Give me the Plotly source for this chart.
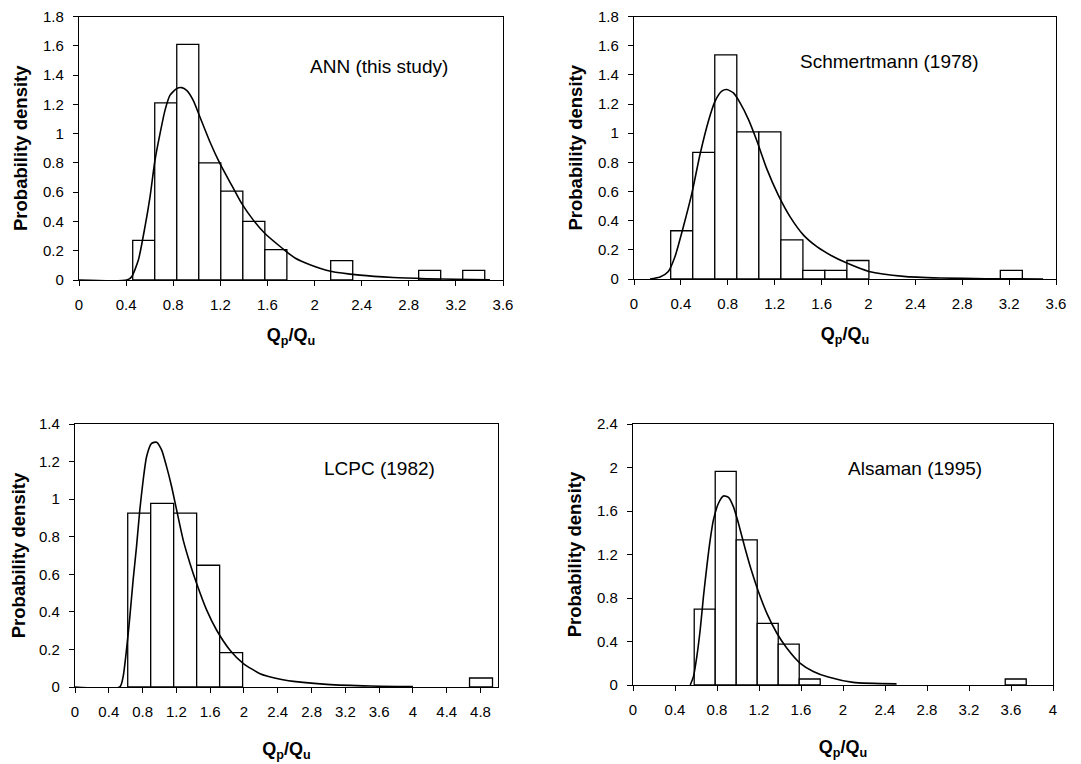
import plotly.graph_objects as go

# ---------------- data ----------------
panel_labels = ["ANN (this study)", "Schmertmann (1978)", "LCPC (1982)", "Alsaman (1995)"]

# histogram bars: left edges of bins, bin width, density
ann_bin_left = [0.456, 0.643, 0.830, 1.017, 1.204, 1.391, 1.578, 2.137, 2.884, 3.258]
ann_bin_width = 0.187
ann_density = [0.27, 1.21, 1.61, 0.80, 0.607, 0.40, 0.207, 0.132, 0.066, 0.066]

sch_bin_left = [0.313, 0.501, 0.689, 0.877, 1.065, 1.253, 1.440, 1.628, 1.816, 3.125]
sch_bin_width = 0.188
sch_density = [0.331, 0.868, 1.537, 1.009, 1.009, 0.268, 0.059, 0.059, 0.127, 0.059]

lcpc_bin_left = [0.624, 0.896, 1.168, 1.440, 1.712, 4.670]
lcpc_bin_width = 0.272
lcpc_density = [0.926, 0.977, 0.926, 0.648, 0.183, 0.048]

als_bin_left = [0.583, 0.783, 0.983, 1.183, 1.383, 1.583, 3.545]
als_bin_width = 0.200
als_density = [0.698, 1.965, 1.335, 0.566, 0.376, 0.055, 0.055]

# fitted probability density curves
ann_curve_x = [0.0, 0.405, 0.447, 0.504, 0.560, 0.603, 0.645, 0.688, 0.730, 0.772, 0.829, 0.872,
               0.914, 0.970, 1.027, 1.112, 1.197, 1.296, 1.381, 1.480, 1.579, 1.692, 1.763,
               1.834, 1.961, 2.137, 2.385, 2.668, 2.951, 3.200, 3.489]
ann_curve_y = [0.0, 0.0, 0.023, 0.136, 0.363, 0.568, 0.818, 1.000, 1.159, 1.261, 1.307, 1.314,
               1.295, 1.227, 1.113, 0.943, 0.795, 0.648, 0.523, 0.409, 0.318, 0.239, 0.193,
               0.150, 0.105, 0.060, 0.033, 0.017, 0.009, 0.005, 0.002]

sch_curve_x = [0.137, 0.222, 0.293, 0.350, 0.421, 0.493, 0.564, 0.635, 0.692, 0.749, 0.792,
               0.848, 0.905, 0.976, 1.048, 1.133, 1.232, 1.332, 1.446, 1.560, 1.674, 1.816,
               2.004, 2.300, 2.613, 3.000, 3.490]
sch_curve_y = [0.0, 0.014, 0.052, 0.154, 0.358, 0.585, 0.857, 1.084, 1.220, 1.288, 1.299,
               1.276, 1.208, 1.095, 0.948, 0.755, 0.573, 0.426, 0.301, 0.222, 0.165, 0.109,
               0.052, 0.018, 0.007, 0.002, 0.0]

lcpc_curve_x = [0.0, 0.530, 0.569, 0.609, 0.649, 0.688, 0.728, 0.767, 0.807, 0.847, 0.906, 0.966,
                1.025, 1.084, 1.144, 1.203, 1.281, 1.361, 1.440, 1.559, 1.677, 1.835, 1.993,
                2.191, 2.389, 2.586, 2.980, 3.500, 4.000]
lcpc_curve_y = [0.0, 0.0, 0.053, 0.196, 0.373, 0.569, 0.746, 0.942, 1.102, 1.226, 1.297, 1.303,
                1.262, 1.173, 1.066, 0.942, 0.782, 0.658, 0.551, 0.409, 0.302, 0.196, 0.125,
                0.071, 0.045, 0.030, 0.014, 0.005, 0.002]

als_curve_x = [0.545, 0.576, 0.608, 0.640, 0.671, 0.703, 0.735, 0.766, 0.814, 0.861, 0.909,
               0.956, 1.004, 1.067, 1.131, 1.194, 1.274, 1.369, 1.464, 1.590, 1.717, 1.860,
               2.097, 2.510]
als_curve_y = [0.0, 0.079, 0.263, 0.508, 0.814, 1.089, 1.334, 1.518, 1.671, 1.738, 1.726,
               1.640, 1.488, 1.258, 1.043, 0.860, 0.661, 0.478, 0.340, 0.202, 0.125, 0.073,
               0.024, 0.010]

# axis ticks
x_ticks_36 = [0, 0.4, 0.8, 1.2, 1.6, 2, 2.4, 2.8, 3.2, 3.6]
x_ticks_48 = [0, 0.4, 0.8, 1.2, 1.6, 2, 2.4, 2.8, 3.2, 3.6, 4, 4.4, 4.8]
x_ticks_40 = [0, 0.4, 0.8, 1.2, 1.6, 2, 2.4, 2.8, 3.2, 3.6, 4]
y_ticks_18 = [0, 0.2, 0.4, 0.6, 0.8, 1, 1.2, 1.4, 1.6, 1.8]
y_ticks_14 = [0, 0.2, 0.4, 0.6, 0.8, 1, 1.2, 1.4]
y_ticks_24 = [0, 0.4, 0.8, 1.2, 1.6, 2, 2.4]

x_title = "<b>Q<sub>p</sub>/Q<sub>u</sub></b>"
y_title = "<b>Probability density</b>"

# ---------------- layout geometry ----------------
FONT = "Arial, 'Liberation Sans', sans-serif"
PAGE_OFF = 8          # default body margin of the html page
W, H = 1081 - PAGE_OFF, 764 - PAGE_OFF


def xdom(x0, x1):
    return [(x0 - PAGE_OFF) / W, (x1 - PAGE_OFF) / W]


def ydom(y0, y1):  # y0 top pixel, y1 bottom pixel
    return [1 - (y1 - PAGE_OFF) / H, 1 - (y0 - PAGE_OFF) / H]


def pt(x, y):
    return ((x - PAGE_OFF) / W, 1 - (y - PAGE_OFF) / H)


panels = [
    dict(bl=ann_bin_left, bw=ann_bin_width, d=ann_density, cx=ann_curve_x, cy=ann_curve_y,
         xt=x_ticks_36, yt=y_ticks_18, xr=[0, 3.6], yr=[0, 1.8], xstand=16,
         xdom=xdom(79, 503), ydom=ydom(16.5, 280), lab=pt(379, 66)),
    dict(bl=sch_bin_left, bw=sch_bin_width, d=sch_density, cx=sch_curve_x, cy=sch_curve_y,
         xt=x_ticks_36, yt=y_ticks_18, xr=[0, 3.6], yr=[0, 1.8], xstand=16,
         xdom=xdom(634, 1056), ydom=ydom(16.5, 279), lab=pt(889, 61)),
    dict(bl=lcpc_bin_left, bw=lcpc_bin_width, d=lcpc_density, cx=lcpc_curve_x, cy=lcpc_curve_y,
         xt=x_ticks_48, yt=y_ticks_14, xr=[0, 5.007], yr=[0, 1.4], xstand=23,
         xdom=xdom(75, 498), ydom=ydom(424, 687), lab=pt(379, 468)),
    dict(bl=als_bin_left, bw=als_bin_width, d=als_density, cx=als_curve_x, cy=als_curve_y,
         xt=x_ticks_40, yt=y_ticks_24, xr=[0, 4.0], yr=[0, 2.4], xstand=23,
         xdom=xdom(633, 1053), ydom=ydom(424, 685), lab=pt(915, 468)),
]

fig = go.Figure()
layout = dict(
    width=W, height=H,
    margin=dict(l=0, r=0, t=0, b=0, autoexpand=False),
    paper_bgcolor="white", plot_bgcolor="white",
    showlegend=False,
    font=dict(family=FONT, size=15, color="black"),
    annotations=[],
)

for i, p in enumerate(panels, start=1):
    xa = "x" if i == 1 else f"x{i}"
    ya = "y" if i == 1 else f"y{i}"
    centers = [b + p["bw"] / 2 for b in p["bl"]]
    fig.add_trace(go.Bar(
        x=centers, y=p["d"], width=p["bw"],
        marker=dict(color="white", line=dict(color="black", width=1.3)),
        xaxis=xa, yaxis=ya, hoverinfo="x+y",
    ))
    fig.add_trace(go.Scatter(
        x=p["cx"], y=p["cy"], mode="lines",
        line=dict(color="black", width=1.6, shape="spline", smoothing=0.6),
        xaxis=xa, yaxis=ya,
    ))
    xkey = "xaxis" if i == 1 else f"xaxis{i}"
    ykey = "yaxis" if i == 1 else f"yaxis{i}"
    layout[xkey] = dict(
        domain=p["xdom"], range=p["xr"], anchor=ya, automargin=False,
        tickmode="array", tickvals=p["xt"], ticktext=[f"{v:g}" for v in p["xt"]],
        ticks="outside", ticklen=5, tickwidth=1, tickcolor="black",
        ticklabelstandoff=6, ticklabeloverflow="allow",
        showline=True, mirror=True, linecolor="black", linewidth=1.3,
        showgrid=False, zeroline=False,
        title=dict(text=x_title, font=dict(size=18), standoff=p["xstand"]),
    )
    layout[ykey] = dict(
        domain=p["ydom"], range=p["yr"], anchor=xa, automargin=False,
        tickmode="array", tickvals=p["yt"], ticktext=[f"{v:g}" for v in p["yt"]],
        ticks="outside", ticklen=5, tickwidth=1, tickcolor="black",
        ticklabelstandoff=6, ticklabeloverflow="allow",
        showline=True, mirror=True, linecolor="black", linewidth=1.3,
        showgrid=False, zeroline=False,
        title=dict(text=y_title, font=dict(size=18.5), standoff=10),
    )
    layout["annotations"].append(dict(
        text=panel_labels[i - 1], x=p["lab"][0], y=p["lab"][1],
        xref="paper", yref="paper", showarrow=False,
        xanchor="center", yanchor="middle",
        font=dict(size=19, family=FONT),
    ))

fig.update_layout(**layout)
fig.write_html("out.html")
